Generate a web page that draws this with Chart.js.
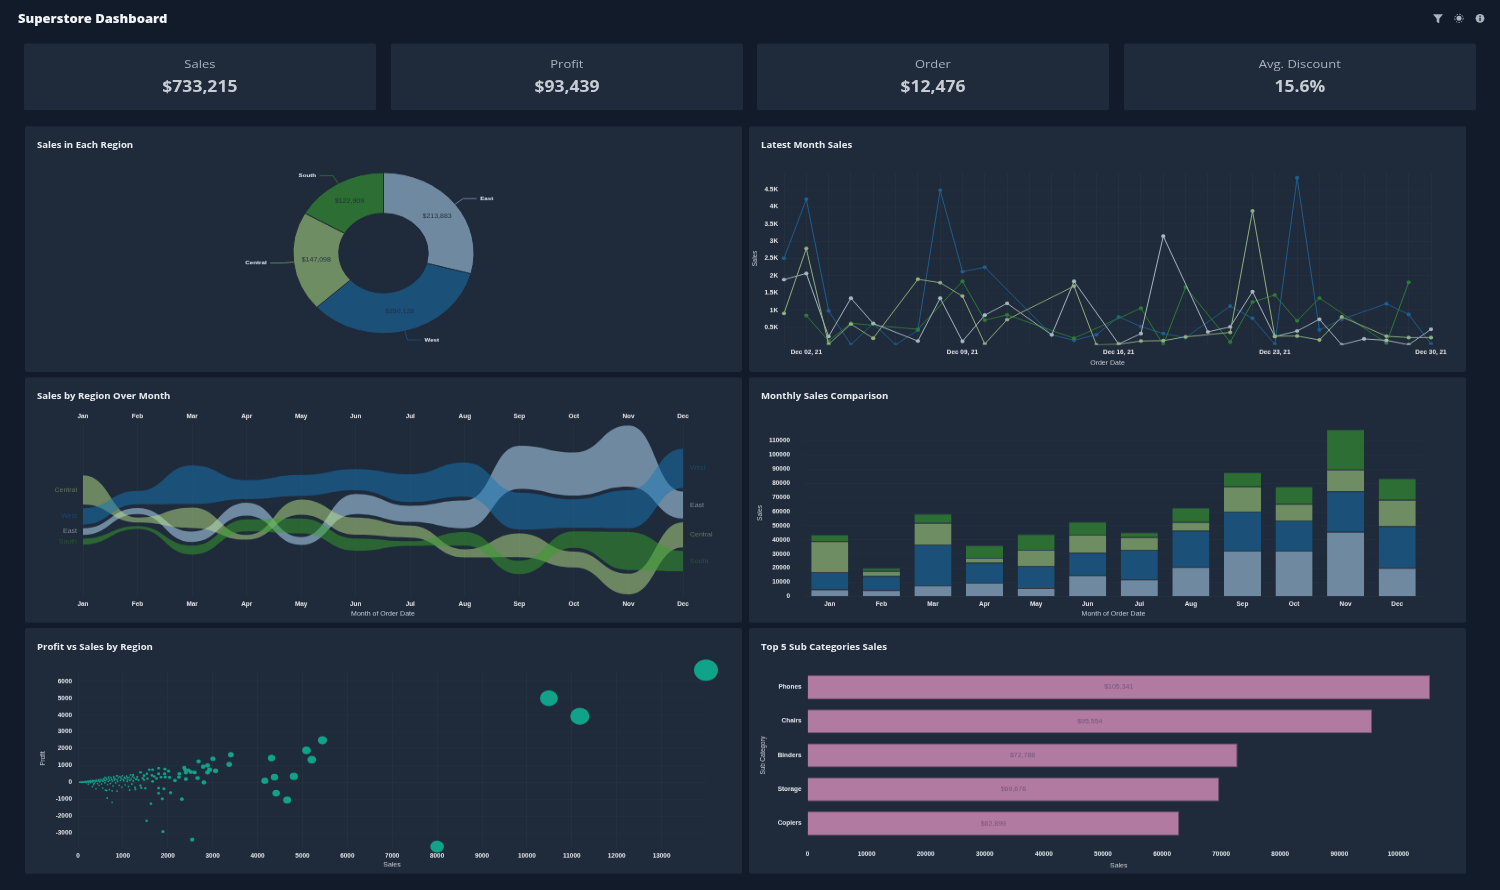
<!DOCTYPE html>
<html><head><meta charset="utf-8"><title>Superstore Dashboard</title>
<script src="https://cdn.jsdelivr.net/npm/chart.js@4"></script>
<style>
html,body{margin:0;padding:0;background:#111b2a;overflow:hidden;width:1500px;height:890px}
#page{position:absolute;left:0;top:0;width:1500px;transform-origin:0 0;font-family:"Open Sans",sans-serif}
.box{position:absolute;background:#1f2a3a;border-radius:2px}
.t{position:absolute;white-space:nowrap;transform:translateY(-50%)}
canvas{position:absolute;display:block}
svg{position:absolute}
</style></head><body><div id="page"></div>
<script>
// ---- data ----
const regionNames = ['East','West','Central','South'];
const regionSales = [213883,250128,147098,122909];
const kpiNames = ['Sales','Profit','Order','Avg. Discount'];
const kpiValues = ['$733,215','$93,439','$12,476','15.6%'];
const monthNames = ['Jan','Feb','Mar','Apr','May','Jun','Jul','Aug','Sep','Oct','Nov','Dec'];
const eastMonthly = [5000,4500,7800,9700,5900,15000,12100,20900,32300,32300,45800,20200];
const westMonthly = [12300,10000,29000,14100,15700,15900,20900,25700,27800,21400,28500,29400];
const centralMonthly = [21900,3600,15200,3500,11400,12800,9000,6100,17800,11900,15500,18800];
const southMonthly = [4500,2100,6700,9000,11200,9300,3400,10200,10000,12300,28500,15200];
const dayLabels = ['Dec 01, 21','Dec 02, 21','Dec 03, 21','Dec 04, 21','Dec 05, 21','Dec 06, 21','Dec 07, 21','Dec 08, 21','Dec 09, 21','Dec 10, 21','Dec 11, 21','Dec 12, 21','Dec 13, 21','Dec 14, 21','Dec 15, 21','Dec 16, 21','Dec 17, 21','Dec 18, 21','Dec 19, 21','Dec 20, 21','Dec 21, 21','Dec 22, 21','Dec 23, 21','Dec 24, 21','Dec 25, 21','Dec 26, 21','Dec 27, 21','Dec 28, 21','Dec 29, 21','Dec 30, 21'];
const westDaily = [2510,4220,985,5,620,0,420,4480,2120,2250,null,null,290,130,290,810,530,325,210,null,1120,770,15,4840,430,740,null,1190,880,25];
const eastDaily = [1890,2070,240,1350,620,null,110,1350,100,860,1200,null,290,1840,null,25,325,3150,null,375,520,1540,240,400,740,0,170,130,0,450];
const centralDaily = [910,2790,15,600,190,null,1900,1800,1410,25,730,null,null,1700,0,15,110,120,230,null,360,3880,250,255,140,810,null,250,210,210];
const southDaily = [null,850,110,625,null,null,450,null,1840,715,870,null,null,190,null,null,1060,0,1670,null,80,1240,1440,695,1355,null,null,50,1810,null];
const subCategories = ['Phones','Chairs','Binders','Storage','Copiers'];
const subCategorySales = [105341,95554,72788,69678,62899];
const lineYTicks = [500,1000,1500,2000,2500,3000,3500,4000,4500];
const barYTicks = [0,10000,20000,30000,40000,50000,60000,70000,80000,90000,100000,110000];
const scatterXTicks = [0,1000,2000,3000,4000,5000,6000,7000,8000,9000,10000,11000,12000,13000];
const scatterYTicks = [-3000,-2000,-1000,0,1000,2000,3000,4000,5000,6000];
const subCatXTicks = [0,10000,20000,30000,40000,50000,60000,70000,80000,90000,100000];
const scatterSales = [13990,10490,11180,8000,5446,5090,5209,4311,4808,4378,4163,4415,4660,3406,3369,3005,3065,2686,2931,2886,2790,2886,2664,2805,2367,2389,2464,2404,2515,2597,2404,2256,2248,2159,2018,1937,1796,2040,1944,1929,1796,1662,1588,1536,1402,1476,1647,1662,1914,1796,1796,2063,1877,2315,1625,1528,1892,2545,
40,60,75,95,110,125,140,155,170,185,200,215,230,245,260,275,285,300,315,330,345,360,375,390,405,420,435,450,465,480,495,510,525,540,555,570,585,600,615,630,645,660,675,690,705,720,735,750,765,780,795,810,825,840,855,870,885,900,915,930,945,960,975,990,1005,1020,1035,1050,1065,1080,1095,1110,1125,1140,1155,1170,1185,1200,1215,1230,1250,1270,1290,1320,1350,1380,1410,1440,1470,1500,640,700,760,650,760,320,400,470,230,350,550,610,870,1150,1280,1390,600,680,800,960,1040,1100,880,1230,1310,1470,1550,1700,1750,1850];
const scatterProfit = [6675,5005,3930,-3815,2503,1907,1351,1450,358,318,99,-636,-1053,1649,1073,1411,695,1252,755,1013,934,596,258,0,874,755,715,576,616,596,199,517,318,119,675,795,854,298,318,517,517,755,755,517,596,397,417,60,-378,-338,-636,-616,-974,-994,-1272,-2285,-2921,-3398,
10,18,8,25,30,12,42,28,55,-8,40,70,22,85,48,-15,100,60,30,120,75,-40,95,45,140,70,-60,110,160,35,85,190,-90,120,60,210,140,-25,95,250,170,-130,55,230,120,-60,290,180,80,-210,340,130,220,-30,390,160,60,280,-170,350,110,210,-280,400,170,90,310,-140,230,380,60,160,-240,300,120,440,210,-100,360,90,270,-300,180,330,130,600,-320,260,150,-350,-480,-430,-500,-930,-1180,-250,-380,-170,-100,-130,-340,-460,-520,-460,-420,-180,300,330,260,310,260,290,400,450,200,420,230,350,230,310];

// ---- styling ----
const K = 1.124;                      // vertical stretch compensated by the page transform
const Y = v => v * K;
const page = document.getElementById('page');
page.style.height = Y(890) + 'px';
page.style.transform = 'scale(1,' + (1 / K) + ')';
const solid = {East:'#6f8aa0',West:'#1b5078',Central:'#6e8d62',South:'#2c6e33'};
const lineCol = {East:'#a9b7c4',West:'#1f5f8f',Central:'#93b07e',South:'#2f7d34'};
const ribbonFill = {East:'rgb(111,138,160)',West:'rgba(23,117,184,.5)',Central:'rgba(185,225,136,.5)',South:'rgba(53,159,44,.5)'};
const tickFont = {family:'"Liberation Sans",Arial,sans-serif',size:6.4,weight:'bold'};
const titleFont = {family:'"Liberation Sans",Arial,sans-serif',size:7,weight:'normal',lineHeight:1.2};
const gridCol = 'rgba(75,115,115,.09)';
const tickCol = '#e6e9ec', axisTitleCol = '#c9ced4';
Chart.defaults.animation = false;
Chart.defaults.responsive = false;
Chart.defaults.devicePixelRatio = 1;
Chart.defaults.plugins.legend.display = false;
Chart.defaults.plugins.tooltip.enabled = false;

function el(cls, x, y, w, h) {
  const d = document.createElement('div'); d.className = cls;
  d.style.cssText = `left:${x}px;top:${Y(y)}px;width:${w}px;height:${Y(h)}px`;
  page.appendChild(d); return d;
}
function text(x, y, s, css) {
  const d = document.createElement('div'); d.className = 't'; d.textContent = s;
  d.style.cssText = `left:${x}px;top:${Y(y)}px;` + css;
  page.appendChild(d); return d;
}
function canvasAt(x, y, w, h) {
  const c = document.createElement('canvas');
  c.style.left = x + 'px'; c.style.top = Y(y) + 'px';
  c.width = w; c.height = Math.round(Y(h));
  page.appendChild(c); return c.getContext('2d');
}
const yFit = w => s => { s.width = w; s.paddingTop = 0; s.paddingBottom = 0; };
const xFit = h => s => { s.height = Y(h); s.paddingLeft = 0; s.paddingRight = 0; };
const pad = (l, r, t) => ({padding:{left:l,right:r,top:Y(t),bottom:0}});
const axisTitle = (s, p) => ({display:true,text:s,color:axisTitleCol,font:titleFont,padding:{top:p,bottom:p}});
const ticks = (o) => Object.assign({color:tickCol,font:tickFont,maxRotation:0,minRotation:0,autoSkip:false},o);
const fixedTicks = arr => s => { s.ticks = arr.map(value => ({value})); };
const plainNumber = v => String(v);
const gridOn = {color:gridCol,drawTicks:false};
const gridOff = {display:false,drawTicks:false};

// ---- page chrome ----
text(18, 18.6, 'Superstore Dashboard', 'font-weight:800;font-size:13px;color:#f2f4f6');
const iconCol = '#a9b4bf';
const icons = [
  [1433,`<path d="M0 1H10L6.3 5.4V10L3.7 8.6V5.4Z" fill="${iconCol}"/>`],
  [1454,`<circle cx="5" cy="5" r="2.5" fill="${iconCol}"/><g stroke="${iconCol}" stroke-width="1" stroke-dasharray="1.4 1.4"><circle cx="5" cy="5" r="4.2" fill="none"/></g>`],
  [1475,`<circle cx="5" cy="5" r="4.4" fill="${iconCol}"/><rect x="4.4" y="4.3" width="1.3" height="3.4" fill="#111b2a"/><rect x="4.4" y="2.3" width="1.3" height="1.3" fill="#111b2a"/>`]
];
icons.forEach(([x, g]) => {
  const s = document.createElementNS('http://www.w3.org/2000/svg','svg');
  s.setAttribute('viewBox','0 0 10 10'); s.setAttribute('width','10'); s.setAttribute('height',String(Y(10)));
  s.setAttribute('preserveAspectRatio','none');
  s.style.left = x+'px'; s.style.top = Y(13)+'px'; s.innerHTML = g; page.appendChild(s);
});
const kpiX = [23.6,390.6,756.6,1123.6];
kpiNames.forEach((n,i) => {
  el('box', kpiX[i], 44, 352.6, 66);
  text(kpiX[i], 63.3, n, 'width:352.6px;text-align:center;font-size:13px;color:#aab2bc');
  text(kpiX[i], 85.3, kpiValues[i], 'width:352.6px;text-align:center;font-size:17.5px;font-weight:700;color:#c8cdd4');
});
const panels = [[25,126,'Sales in Each Region'],[749,126,'Latest Month Sales'],[25,377,'Sales by Region Over Month'],[749,377,'Monthly Sales Comparison'],[25,628,'Profit vs Sales by Region'],[749,628,'Top 5 Sub Categories Sales']];
panels.forEach(([x,y]) => { el('box', x, y, 717, 246); });
function panelTitles(){ panels.forEach(([x,y,s]) => text(x+12, y+19.2, s, 'font-size:9.6px;font-weight:700;color:#e9ecef')); }

// ---- 1. donut ----
new Chart(canvasAt(25,126,717,246), {
  type:'doughnut',
  data:{labels:regionNames,datasets:[{data:regionSales,backgroundColor:regionNames.map(r=>solid[r]),borderColor:'#1f2a3a',borderWidth:1,radius:90.5,cutout:'49.4%'}]},
  options:{layout:{padding:{top:Y(7)}}},
  plugins:[{id:'donutLabels',afterDatasetsDraw(ch){
    const c = ch.ctx, arcs = ch.getDatasetMeta(0).data;
    c.save(); c.textBaseline='middle';
    arcs.forEach((a,i)=>{
      const mid=(a.startAngle+a.endAngle)/2, cx=Math.cos(mid), sy=Math.sin(mid), R=a.outerRadius, Rm=(a.innerRadius+R)/2;
      c.font='7px "Liberation Sans",Arial,sans-serif'; c.fillStyle='#26313d'; c.textAlign='center';
      c.fillText('$'+regionSales[i].toLocaleString('en-US'), a.x+cx*Rm, a.y+sy*Rm);
      const x0=a.x+cx*R, y0=a.y+sy*R, x1=a.x+cx*(R+10), y1=a.y+sy*(R+10);
      const dir=cx>=0?1:-1, x2=x1+dir*13.5;
      c.strokeStyle=solid[regionNames[i]]; c.lineWidth=1; c.beginPath(); c.moveTo(x0,y0); c.lineTo(x1,y1); c.lineTo(x2,y1); c.stroke();
      c.fillStyle='#e6e9ec'; c.font='bold 6.2px "Liberation Sans",Arial,sans-serif'; c.textAlign=dir>0?'left':'right';
      c.fillText(regionNames[i], x2+dir*3.5, y1);
    });
    c.restore();
  }}]
});

// ---- 2. latest month lines ----
const lineSets = [['Central',centralDaily],['East',eastDaily],['South',southDaily],['West',westDaily]];
new Chart(canvasAt(749,126,717,246), {
  type:'line',
  data:{labels:dayLabels,datasets:lineSets.map(([n,d])=>({label:n,data:d,borderColor:lineCol[n],backgroundColor:lineCol[n],borderWidth:1,pointRadius:2.1,pointBorderWidth:0,spanGaps:true,tension:0}))},
  options:{layout:pad(0,35,46),scales:{
    x:{grid:gridOn,border:{display:false},afterFit:xFit(28),title:axisTitle('Order Date',7),
       ticks:ticks({padding:5,callback(v,i){return i%7===1?this.getLabelForValue(v):''}})},
    y:{min:0,max:5000,grid:gridOn,border:{display:false},afterFit:yFit(35),title:axisTitle('Sales',1.4),afterBuildTicks:fixedTicks(lineYTicks),
       ticks:ticks({padding:6,callback(v){return (v/1000)+'K'}})}
  }}
});

// ---- 3. ribbon chart ----
const monthlyBy = {East:eastMonthly,West:westMonthly,Central:centralMonthly,South:southMonthly};
const ribbonGap = 2750;
const ribbonTop = {}, ribbonBottom = {};
regionNames.forEach(r=>{ribbonTop[r]=[];ribbonBottom[r]=[];});
monthNames.forEach((m,i)=>{
  const sorted=regionNames.slice().sort((a,b)=>monthlyBy[b][i]-monthlyBy[a][i]);
  const total=sorted.reduce((s,r)=>s+monthlyBy[r][i],0)+ribbonGap*3;
  let y=total/2;
  sorted.forEach(r=>{ribbonTop[r][i]=y; y-=monthlyBy[r][i]; ribbonBottom[r][i]=y; y-=ribbonGap;});
});
const ribbonOrder = ['South','West','Central','East'];
const ribbonSets = [];
ribbonOrder.forEach(r=>{
  ribbonSets.push({label:r+' top',data:ribbonTop[r],borderWidth:0,pointRadius:0,tension:.4,fill:'+1',backgroundColor:ribbonFill[r],borderColor:'transparent'});
  ribbonSets.push({label:r+' bottom',data:ribbonBottom[r],borderWidth:0,pointRadius:0,tension:.4,fill:false,borderColor:'transparent'});
});
const edgeCol = {East:'#7b8c9a',West:'#1b4a6e',Central:'#64785a',South:'#265c2f'};
new Chart(canvasAt(25,377,717,246), {
  type:'line',
  data:{labels:monthNames,datasets:ribbonSets},
  options:{layout:pad(58,59,0),scales:{
    x:{position:'bottom',grid:gridOn,border:{display:false},afterFit:xFit(27),title:axisTitle('Month of Order Date',7),ticks:ticks({padding:5})},
    x2:{type:'category',position:'top',grid:gridOff,border:{display:false},afterFit:xFit(46),ticks:ticks({padding:4})},
    y:{display:false,min:-65000,max:65000}
  }},
  plugins:[{id:'smoothRibbons',
    beforeDatasetsDraw(ch){
      ch.getSortedVisibleDatasetMetas().forEach(meta=>{
        const line=meta.dataset; line.updateControlPoints(ch.chartArea,'x');
        const pts=meta.data;
        pts.forEach((p,i)=>{
          const dl=i>0?(p.x-pts[i-1].x)/2:0, dr=i<pts.length-1?(pts[i+1].x-p.x)/2:0;
          p.cp1x=p.x-dl; p.cp1y=p.y; p.cp2x=p.x+dr; p.cp2y=p.y;
        });
      });
    },
    afterDatasetsDraw(ch){
      const c=ch.ctx,ys=ch.scales.y,xs=ch.scales.x;
      c.save(); c.textBaseline='middle'; c.font='7px "Liberation Sans",Arial,sans-serif';
      regionNames.forEach(r=>{
        c.fillStyle=edgeCol[r];
        c.textAlign='right'; c.fillText(r,xs.left-6,ys.getPixelForValue((ribbonTop[r][0]+ribbonBottom[r][0])/2));
        c.textAlign='left'; c.fillText(r,xs.right+7,ys.getPixelForValue((ribbonTop[r][11]+ribbonBottom[r][11])/2));
      });
      c.restore();
    }}]
});

// ---- 4. stacked bars ----
new Chart(canvasAt(749,377,717,246), {
  type:'bar',
  data:{labels:monthNames,datasets:regionNames.map(r=>({label:r,data:monthlyBy[r],backgroundColor:solid[r],borderColor:'rgba(60,75,90,.55)',borderWidth:{top:1,left:0,right:0,bottom:0},barPercentage:.72,categoryPercentage:1}))},
  options:{layout:pad(0,43,52),scales:{
    x:{stacked:true,grid:gridOff,border:{display:false},afterFit:xFit(27.2),title:axisTitle('Month of Order Date',7),ticks:ticks({padding:5})},
    y:{stacked:true,min:0,max:118300,grid:gridOn,border:{display:false},afterFit:yFit(55),title:axisTitle('Sales',6.8),afterBuildTicks:fixedTicks(barYTicks),
       ticks:ticks({padding:14,callback:plainNumber})}
  }}
});

// ---- 5. scatter ----
const scatterPoints = scatterSales.map((x,i)=>({x,y:scatterProfit[i]}));
new Chart(canvasAt(25,628,717,246), {
  type:'scatter',
  data:{datasets:[{label:'Regions',data:scatterPoints,clip:false,backgroundColor:'#10a389',borderWidth:0,
    pointRadius(ctx){const v=ctx.raw;return v?Math.max(.9,v.x/1170):1}}]},
  options:{layout:pad(0,36,42),scales:{
    x:{type:'linear',min:0,max:13990,grid:gridOn,border:{display:false},afterFit:xFit(28),title:axisTitle('Sales',6.5),afterBuildTicks:fixedTicks(scatterXTicks),
       ticks:ticks({padding:6.5,callback:plainNumber})},
    y:{min:-3815,max:6675,grid:gridOn,border:{display:false},afterFit:yFit(53),title:axisTitle('Profit',13.5),afterBuildTicks:fixedTicks(scatterYTicks),
       ticks:ticks({padding:6,callback:plainNumber})}
  }}
});

// ---- 6. horizontal bars ----
new Chart(canvasAt(749,628,717,246), {
  type:'bar',
  data:{labels:subCategories,datasets:[{label:'Sales',data:subCategorySales,backgroundColor:'#b17aa0',borderColor:'#6f4f72',borderWidth:1,barPercentage:.706,categoryPercentage:1}]},
  options:{indexAxis:'y',layout:pad(0,36,42),scales:{
    x:{min:0,max:105341,grid:gridOff,border:{display:false},afterFit:xFit(34),title:axisTitle('Sales',6.2),afterBuildTicks:fixedTicks(subCatXTicks),
       ticks:ticks({padding:11.5,callback:plainNumber})},
    y:{grid:gridOff,border:{display:false},afterFit:yFit(58.5),title:axisTitle('Sub Category',10),ticks:ticks({padding:6})}
  }},
  plugins:[{id:'barValues',afterDatasetsDraw(ch){
    const c=ch.ctx; c.save(); c.textAlign='center'; c.textBaseline='middle'; c.fillStyle='#75577c'; c.font='7px "Liberation Sans",Arial,sans-serif';
    ch.getDatasetMeta(0).data.forEach((b,i)=>c.fillText('$'+subCategorySales[i].toLocaleString('en-US'),(b.base+b.x)/2,b.y));
    c.restore();
  }}]
});
panelTitles();
</script></body></html>
